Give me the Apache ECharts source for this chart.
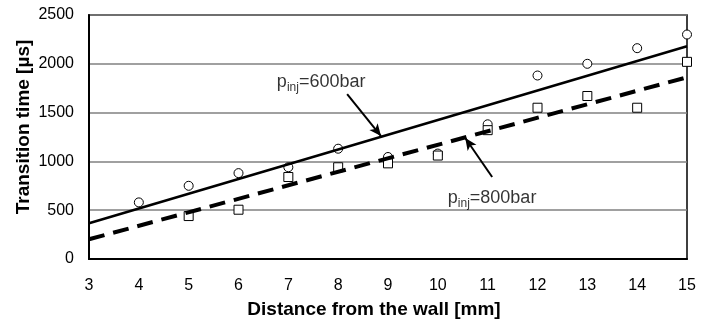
<!DOCTYPE html>
<html>
<head>
<meta charset="utf-8">
<script src="https://cdn.jsdelivr.net/npm/echarts@6/dist/echarts.min.js"></script>
<style>
html,body{margin:0;padding:0;background:#fff;}
#c{width:710px;height:324px;}
</style>
</head>
<body>
<div id="c"></div>
<script>
// ---- data ----
var xCircles = [4, 5, 6, 7, 8, 9, 10, 11, 12, 13, 14, 15];
var yCircles600 = [580, 750, 880, 940, 1130, 1045, 1080, 1380, 1880, 2000, 2160, 2300];
var xSquares = [5, 6, 7, 8, 9, 10, 11, 12, 13, 14, 15];
var ySquares800 = [440, 505, 840, 940, 980, 1060, 1320, 1550, 1670, 1550, 2020];
var trendX = [3, 15];
var trend600 = [366, 2180];
var trend800 = [202, 1862];
var yTicks = [0, 500, 1000, 1500, 2000, 2500];
var xTicks = [3, 4, 5, 6, 7, 8, 9, 10, 11, 12, 13, 14, 15];
var label600 = {x: 6.77, y: 1813, text: '600bar'};
var label800 = {x: 10.2, y: 625, text: '800bar'};
var arrow600 = [[8.18, 1690], [8.86, 1260]];
var arrow800 = [[11.09, 840], [10.55, 1240]];

function pairs(xs, ys) { return xs.map(function (x, i) { return [x, ys[i]]; }); }

var FONT = '"Liberation Sans", Arial, sans-serif';
var chart = echarts.init(document.getElementById('c'), null, {renderer: 'canvas'});

function annot(l) {
  return {
    value: [l.x, l.y],
    label: {
      show: true, position: 'right', distance: 0, color: '#000',
      formatter: '{p|p}{s|inj}{p|=' + l.text + '}',
      rich: {
        p: {fontFamily: FONT, fontSize: 18, color: '#000'},
        s: {fontFamily: FONT, fontSize: 12, color: '#000', verticalAlign: 'bottom', padding: [11, 0, 0, 0]}
      }
    }
  };
}

chart.setOption({
  animation: false,
  backgroundColor: '#fff',
  grid: {left: 89, right: 23, top: 15, bottom: 65, show: true, borderColor: '#000', borderWidth: 1.5, backgroundColor: 'transparent'},
  xAxis: {
    type: 'value', min: xTicks[0], max: xTicks[xTicks.length - 1], interval: 1,
    name: 'Distance from the wall [mm]', nameLocation: 'middle', nameGap: 41, nameMoveOverlap: false,
    nameTextStyle: {fontFamily: FONT, fontSize: 19, fontWeight: 'bold', color: '#000', padding: [0, 28, 0, 0]},
    axisLine: {show: true, lineStyle: {color: '#000', width: 2}},
    axisTick: {show: false},
    axisLabel: {fontFamily: FONT, fontSize: 16, color: '#000', margin: 19},
    splitLine: {show: false}
  },
  yAxis: {
    type: 'value', min: yTicks[0], max: yTicks[yTicks.length - 1], interval: 500,
    name: 'Transition time [µs]', nameLocation: 'middle', nameGap: 56, nameMoveOverlap: false,
    nameTextStyle: {fontFamily: FONT, fontSize: 19, fontWeight: 'bold', color: '#000', padding: [0, 0, 0, 20]},
    axisLine: {show: true, lineStyle: {color: '#000', width: 2}},
    axisTick: {show: false},
    axisLabel: {fontFamily: FONT, fontSize: 16, color: '#000', margin: 15, formatter: function (v) { return String(v); }},
    splitLine: {show: true, lineStyle: {color: '#808080', width: 1.5}}
  },
  series: [
    {
      type: 'line', data: pairs(trendX, trend600), symbol: 'none', silent: true,
      lineStyle: {color: '#000', width: 2.5}, z: 3
    },
    {
      type: 'line', data: pairs(trendX, trend800), symbol: 'none', silent: true,
      lineStyle: {color: '#000', width: 4, type: [16, 9]}, z: 3
    },
    {
      type: 'scatter', data: pairs(xCircles, yCircles600), symbol: 'circle', symbolSize: 9, clip: false,
      itemStyle: {color: '#fff', borderColor: '#000', borderWidth: 1, opacity: 1}, z: 2
    },
    {
      type: 'scatter', data: pairs(xSquares, ySquares800), symbol: 'rect', symbolSize: 9, clip: false,
      itemStyle: {color: '#fff', borderColor: '#000', borderWidth: 1, opacity: 1}, z: 2
    },
    {
      type: 'scatter', symbolSize: 0, silent: true, clip: false, z: 5,
      data: [annot(label600), annot(label800)],
      markLine: {
        silent: true, symbol: ['none', 'arrow'], symbolSize: [8, 12],
        lineStyle: {color: '#000', width: 2, type: 'solid'},
        label: {show: false},
        data: [
          [{coord: arrow600[0]}, {coord: arrow600[1]}],
          [{coord: arrow800[0]}, {coord: arrow800[1]}]
        ]
      }
    }
  ]
});
</script>
</body>
</html>
